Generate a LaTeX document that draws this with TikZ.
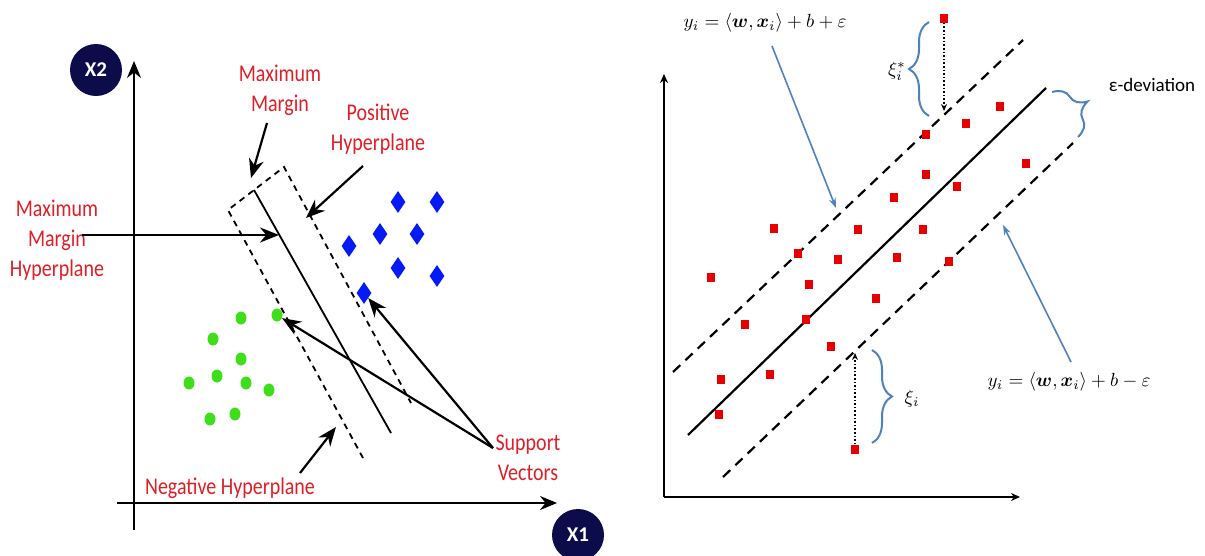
\documentclass[tikz,border=0pt]{standalone}
\usepackage{amsmath,amssymb}
\usepackage{fontspec}
\usepackage{tikz}
\usetikzlibrary{arrows.meta,shapes.geometric,decorations.pathreplacing}

\newfontfamily\labelfont{Carlito}
\definecolor{svmred}{RGB}{224,30,38}
\definecolor{ptred}{RGB}{232,0,0}
\definecolor{ptgreen}{RGB}{62,222,26}
\definecolor{ptblue}{RGB}{6,26,245}
\definecolor{axnavy}{RGB}{12,12,74}
\definecolor{braceblue}{RGB}{79,129,189}

\tikzset{
	redlabel/.style={text=svmred,font=\labelfont\fontsize{20}{25}\selectfont,align=center,inner sep=0pt,yscale=1.2},
	axcircle/.style={circle,fill=axnavy,minimum size=52pt,inner sep=0pt,text=white,font=\labelfont\bfseries\fontsize{21}{21}\selectfont},
	axisarrow/.style={line width=2.4pt,-{Stealth[length=17pt,width=14pt]}},
	pointer/.style={line width=2.2pt,-{Stealth[length=19pt,width=15pt]}},
	margindash/.style={line width=1.8pt,dash pattern=on 6pt off 5pt},
	greendot/.style={ellipse,fill=ptgreen,minimum width=11pt,minimum height=13pt,inner sep=0pt},
	bluediamond/.style={diamond,fill=ptblue,minimum width=15pt,minimum height=22pt,inner sep=0pt},
	redsquare/.style={rectangle,fill=ptred,minimum width=8pt,minimum height=9pt,inner sep=0pt},
	plainaxis/.style={line width=2.4pt,-{Stealth[length=9pt,width=8pt]}},
	tubedash/.style={line width=2.2pt,dash pattern=on 10pt off 7pt},
	slackarrow/.style={line width=1.6pt,dotted,-{Stealth[length=7pt,width=6pt]}},
	bluearrow/.style={draw=braceblue,line width=1.6pt,-{Stealth[length=10pt,width=7pt]}},
	curly/.style={draw=braceblue,line width=2pt,decorate,decoration={brace,amplitude=#1}},
	mathlabel/.style={scale=1.9,inner sep=0pt},
}

\begin{document}
\begin{tikzpicture}[x=1pt,y=-1pt]
		\useasboundingbox (0,0) rectangle (1205,555);

		% >>> left: axes
		\coordinate (ylo) at (134,530);
		\coordinate (yhi) at (134,61);
		\coordinate (xlo) at (117,503);
		\coordinate (xhi) at (557,503);
		\draw[axisarrow] (ylo) -- (yhi);
		\draw[axisarrow] (xlo) -- (xhi);
		\node[axcircle] (xtwo) at (96,70) {X2};
		\node[axcircle] (xone) at (578,535) {X1};
		% <<< left: axes

		% >>> left: classes
		\foreach \px/\py [count=\k] in {241/318,277/315,213/339,241/359,189/383,217/376,246/383,269/390,210/419,235/414}
			\node[greendot] (g\k) at (\px,\py) {};
		\foreach \px/\py [count=\k] in {398/202,437/202,380/234,417/234,349/246,398/268,437/276,364/293}
			\node[bluediamond] (b\k) at (\px,\py) {};
		% <<< left: classes

		% >>> left: margin
		\coordinate (rleft) at (363,458);
		\coordinate (rtl) at (228,210);
		\coordinate (rtr) at (284,167);
		\coordinate (rright) at (411,403);
		\draw[margindash] (rleft) -- (rtl) -- (rtr) -- (rright);
		\coordinate (hyptop) at (254,190);
		\coordinate (hypbot) at (391,433);
		\draw[line width=1.8pt] (hyptop) -- (hypbot);
		% <<< left: margin

		% >>> left: labels
		\node[redlabel] (mmtop) at (280,90) {Maximum\\Margin};
		\node[redlabel] (poshyp) at (378,129) {Positive\\Hyperplane};
		\node[redlabel] (mmhyp) at (57,240) {Maximum\\Margin\\Hyperplane};
		\node[redlabel] (neghyp) at (230,488) {Negative Hyperplane};
		\node[redlabel] (supvec) at (528,458) {Support\\Vectors};

		\coordinate (mmfoot) at (267,123);
		\coordinate (mmtip) at (251,178);
		\coordinate (posfoot) at (363,166);
		\coordinate (postip) at (306,218);
		\coordinate (hypfoot) at (82,235);
		\coordinate (hyptip) at (279,235);
		\coordinate (negfoot) at (300,473);
		\coordinate (negtip) at (336,427);
		\coordinate (svfoot) at (493,448);
		\draw[pointer] (mmfoot) -- (mmtip);
		\draw[pointer] (posfoot) -- (postip);
		\draw[pointer] (hypfoot) -- (hyptip);
		\draw[pointer] (negfoot) -- (negtip);
		\draw[pointer] (svfoot) -- (b8);
		\draw[pointer] (svfoot) -- (g2);
		% <<< left: labels

		% >>> right: axes
		\coordinate (rorig) at (664,497);
		\coordinate (rytip) at (664,74);
		\coordinate (rxtip) at (1020,497);
		\draw[plainaxis] (rorig) -- (rytip);
		\draw[plainaxis] (rorig) -- (rxtip);
		% <<< right: axes

		% >>> right: regression tube
		\coordinate (up1) at (673,372);
		\coordinate (up2) at (1023,40);
		\coordinate (mid1) at (688,435);
		\coordinate (mid2) at (1046,88);
		\coordinate (lo1) at (723,477);
		\coordinate (lo2) at (1073,143);
		\draw[tubedash] (up1) -- (up2);
		\draw[line width=2.2pt] (mid1) -- (mid2);
		\draw[tubedash] (lo1) -- (lo2);
		% <<< right: regression tube

		% >>> right: samples
		\foreach \px/\py [count=\k] in {944/18,926/134,1000/106,966/123,1026/163,926/174,894/197,957/186,774/228,858/229,923/229,798/253,838/259,897/257,949/261,711/277,809/284,876/298,745/324,806/319,831/346,721/379,770/374,719/414,855/449}
			\node[redsquare] (s\k) at (\px,\py) {};
		% <<< right: samples

		% >>> right: slack
		\coordinate (upslack) at (944,111);
		\coordinate (loslack) at (855,353);
		\draw[slackarrow] (s1) -- (upslack);
		\draw[slackarrow] (s25) -- (loslack);
		\coordinate (ubA) at (929,116);
		\coordinate (ubB) at (929,22);
		\draw[curly=20pt] (ubA) -- (ubB);
		\coordinate (lbA) at (872,350);
		\coordinate (lbB) at (872,443);
		\draw[curly=20pt] (lbA) -- (lbB);
		\node[mathlabel] (xistar) at (897,71) {$\xi_i^*$};
		\node[mathlabel] (xi) at (912,399) {$\xi_i$};
		% <<< right: slack

		% >>> right: equations
		\node[mathlabel] (eqplus) at (765,23) {$y_i=\langle\boldsymbol{w},\boldsymbol{x}_i\rangle+b+\varepsilon$};
		\node[mathlabel] (eqminus) at (1069,382) {$y_i=\langle\boldsymbol{w},\boldsymbol{x}_i\rangle+b-\varepsilon$};
		\coordinate (plusfoot) at (772,46);
		\coordinate (plustip) at (836,208);
		\coordinate (minusfoot) at (1071,362);
		\coordinate (minustip) at (1003,225);
		\draw[bluearrow] (plusfoot) -- (plustip);
		\draw[bluearrow] (minusfoot) -- (minustip);
		% <<< right: equations

		% >>> right: tube width
		\coordinate (ebA) at (1052,92);
		\coordinate (ebB) at (1078,137);
		\draw[curly=26pt] (ebA) -- (ebB);
		\node[font=\labelfont\fontsize{19}{22}\selectfont,inner sep=0pt] (edev) at (1152,85) {ε-deviation};
		% <<< right: tube width
	\end{tikzpicture}
\end{document}
